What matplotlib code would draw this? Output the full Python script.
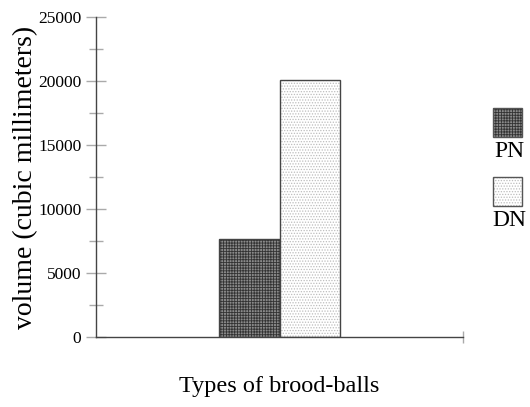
import matplotlib
matplotlib.use("Agg")
import matplotlib.pyplot as plt
from matplotlib.patches import Rectangle
from matplotlib.ticker import MultipleLocator

plt.rcParams['font.family'] = ['Liberation Serif', 'DejaVu Serif']
plt.rcParams['hatch.linewidth'] = 0.6

# data
groups = ["PN", "DN"]
volumes = [7680, 20100]
faces = ["#8a8a8a", "white"]
hatches = ["++++++", "......"]
hatch_cols = ["#333333", "#bdbdbd"]

fig = plt.figure(figsize=(5.30, 4.07), dpi=100)
ax = fig.add_axes([0.181, 0.172, 0.693, 0.786])

w = 0.33
xs = [-w, 0.0]
for x, v, fc, h, hc in zip(xs, volumes, faces, hatches, hatch_cols):
    ax.bar(x, v, width=w, align='edge', facecolor=fc, edgecolor=hc,
           hatch=h, linewidth=0)
    ax.bar(x, v, width=w, align='edge', facecolor='none', edgecolor='#444444',
           linewidth=1.0)

ax.set_xlim(-1, 1)
ax.set_ylim(0, 25000)
ax.yaxis.set_major_locator(MultipleLocator(5000))
ax.yaxis.set_minor_locator(MultipleLocator(2500))
ax.set_xticks([1])
ax.set_xticklabels([""])
ax.tick_params(axis='y', which='major', direction='inout', length=15, width=1,
               color='#aaaaaa', labelsize=12.5, pad=3)
ax.tick_params(axis='y', which='minor', direction='inout', length=10, width=1,
               color='#aaaaaa')
ax.tick_params(axis='x', direction='inout', length=9, width=1, color='#aaaaaa')
for s in ['top', 'right']:
    ax.spines[s].set_visible(False)
for s in ['left', 'bottom']:
    ax.spines[s].set_color('#444444')
    ax.spines[s].set_linewidth(1.0)

ax.set_ylabel("volume (cubic millimeters)", fontsize=20)
ax.yaxis.set_label_coords(-0.158, 0.5)
ax.set_xlabel("Types of brood-balls", fontsize=17.5, labelpad=20)

# legend: swatch above label
sw = [(0.663, 0.628), (0.494, 0.459)]
for (y0, ty), name, fc, h, hc in zip(sw, groups, faces, hatches, hatch_cols):
    r = Rectangle((0.930, y0), 0.055, 0.072, transform=fig.transFigure,
                  facecolor=fc, edgecolor=hc, hatch=h, linewidth=0)
    fig.add_artist(r)
    fig.add_artist(Rectangle((0.930, y0), 0.055, 0.072, transform=fig.transFigure,
                             facecolor='none', edgecolor='#555555', linewidth=1.0))
    fig.text(0.961, ty, name, ha='center', va='center', fontsize=17)

fig.savefig("out.png", dpi=100)
